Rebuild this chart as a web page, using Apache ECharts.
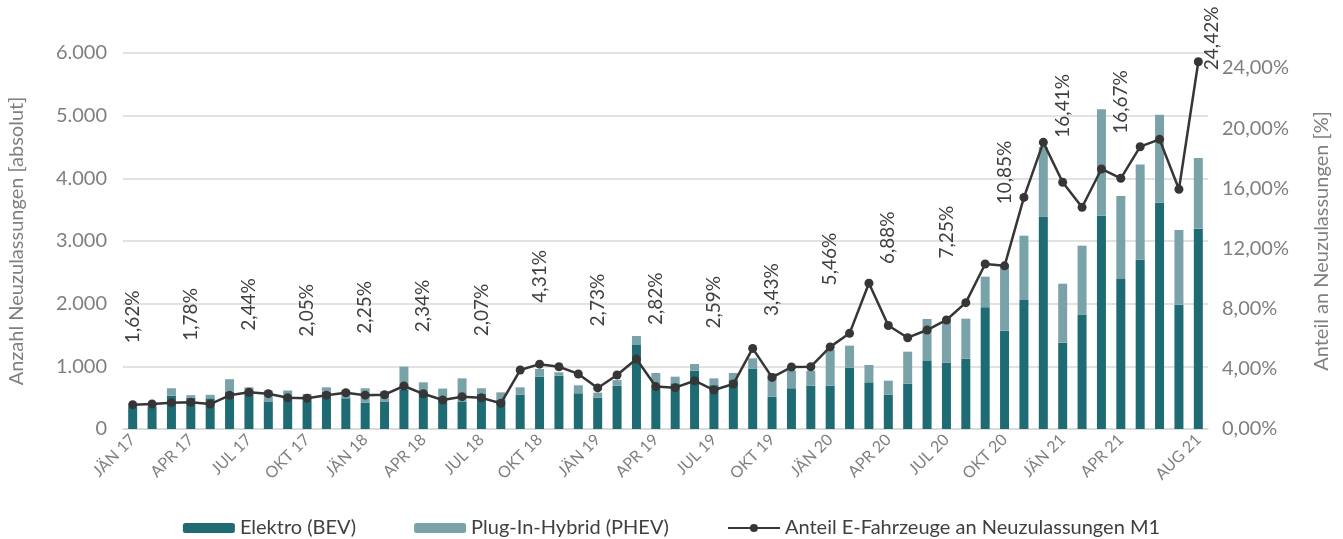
<!DOCTYPE html>
<html>
<head>
<meta charset="utf-8">
<script src="https://cdn.jsdelivr.net/npm/echarts@6/dist/echarts.min.js"></script>
<style>
  html, body { margin: 0; padding: 0; background: #fff; }
  #main { width: 1343px; height: 539px; }
</style>
</head>
<body>
<div id="main"></div>
<script>
// monthly categories Jän 2017 - Aug 2021
const categories = [
  'JÄN 17', 'FEB 17', 'MÄR 17', 'APR 17', 'MAI 17', 'JUN 17', 'JUL 17', 'AUG 17', 'SEP 17', 'OKT 17', 'NOV 17', 'DEZ 17',
  'JÄN 18', 'FEB 18', 'MÄR 18', 'APR 18', 'MAI 18', 'JUN 18', 'JUL 18', 'AUG 18', 'SEP 18', 'OKT 18', 'NOV 18', 'DEZ 18',
  'JÄN 19', 'FEB 19', 'MÄR 19', 'APR 19', 'MAI 19', 'JUN 19', 'JUL 19', 'AUG 19', 'SEP 19', 'OKT 19', 'NOV 19', 'DEZ 19',
  'JÄN 20', 'FEB 20', 'MÄR 20', 'APR 20', 'MAI 20', 'JUN 20', 'JUL 20', 'AUG 20', 'SEP 20', 'OKT 20', 'NOV 20', 'DEZ 20',
  'JÄN 21', 'FEB 21', 'MÄR 21', 'APR 21', 'MAI 21', 'JUN 21', 'JUL 21', 'AUG 21'
]

const bev = [
  350, 350, 530, 500, 490, 590, 610, 440, 530, 460, 600, 490,
  420, 440, 630, 600, 470, 440, 560, 470, 545, 835, 850, 570,
  500, 690, 1340, 650, 730, 930, 700, 780, 960, 516, 650, 692,
  692, 979, 745, 548, 724, 1085, 1058, 1122, 1942, 1569, 2059, 3384,
  1378, 1820, 3404, 2394, 2702, 3612, 1984, 3197
]

const phev = [
  20, 25, 120, 40, 55, 205, 55, 172, 85, 100, 65, 130,
  230, 160, 365, 145, 175, 368, 90, 115, 120, 123, 55, 127,
  80, 90, 144, 244, 105, 107, 108, 114, 168, 373, 280, 238,
  569, 351, 276, 223, 510, 671, 662, 639, 489, 1031, 1026, 1116,
  941, 1106, 1698, 1325, 1517, 1404, 1192, 1128
]

// Anteil E-Fahrzeuge in %
const share = [
  1.62, 1.66, 1.75, 1.78, 1.66, 2.24, 2.44, 2.35, 2.08, 2.05, 2.24, 2.41,
  2.25, 2.28, 2.86, 2.34, 1.93, 2.15, 2.07, 1.71, 3.92, 4.31, 4.14, 3.66,
  2.73, 3.59, 4.65, 2.82, 2.75, 3.21, 2.59, 2.99, 5.36, 3.43, 4.12, 4.14,
  5.46, 6.36, 9.69, 6.88, 6.07, 6.58, 7.25, 8.40, 10.97, 10.85, 15.40, 19.06,
  16.41, 14.74, 17.29, 16.67, 18.77, 19.26, 15.94, 24.42
]

// which points / months get a label
const labelIdx = [0, 3, 6, 9, 12, 15, 18, 21, 24, 27, 30, 33, 36, 39, 42, 45, 48, 51, 55]

const gray = '#7f7f7f'
const dark = '#404040'
const font = 'Lato, "Noto Sans", sans-serif'

function fmtPct (v) {
  return v.toFixed(2).replace('.', ',') + '%'
}

const shareData = share.map(function (v, i) {
  if (labelIdx.indexOf(i) < 0) return v
  let label = {
    show: true,
    position: 'top',
    distance: i >= 48 ? 40 : 57,
    rotate: 90,
    align: 'left',
    verticalAlign: 'middle'
  }
  if (i === categories.length - 1) {
    label = { show: true, position: [18, 13], rotate: 90, align: 'left', verticalAlign: 'middle' }
  }
  return { value: v, label: label }
})

const chart = echarts.init(document.getElementById('main'))
chart.setOption({
  animation: false,
  textStyle: { fontFamily: font },
  grid: { left: 123, right: 135, top: 53, bottom: 110, containLabel: false, outerBoundsMode: 'none' },
  legend: {
    top: 513,
    left: 'center',
    itemWidth: 52,
    itemHeight: 10,
    itemGap: 58,
    textStyle: { color: dark, fontSize: 20, fontFamily: font },
    data: ['Elektro (BEV)', 'Plug-In-Hybrid (PHEV)', 'Anteil E-Fahrzeuge an Neuzulassungen M1']
  },
  xAxis: {
    type: 'category',
    data: categories,
    axisLine: { lineStyle: { color: '#d9d9d9', width: 1.5 } },
    axisTick: { show: false },
    axisLabel: {
      color: gray,
      fontSize: 16,
      rotate: 45,
      margin: 8,
      interval: function (i) { return labelIdx.indexOf(i) >= 0 }
    }
  },
  yAxis: [
    {
      type: 'value',
      min: 0,
      max: 6000,
      interval: 1000,
      name: 'Anzahl Neuzulassungen [absolut]',
      nameLocation: 'middle',
      nameRotate: 90,
      nameGap: 96,
      nameTextStyle: { color: gray, fontSize: 20 },
      axisLabel: {
        color: gray,
        fontSize: 20,
        margin: 16,
        formatter: function (v) { return String(v).replace(/\B(?=(\d{3})+(?!\d))/g, '.') }
      },
      splitLine: { lineStyle: { color: '#d9d9d9', width: 1.5 } }
    },
    {
      type: 'value',
      min: 0,
      max: 25,
      interval: 4,
      name: 'Anteil an Neuzulassungen [%]',
      nameLocation: 'middle',
      nameRotate: 90,
      nameGap: 104,
      nameTextStyle: { color: gray, fontSize: 20 },
      axisLabel: {
        color: gray,
        fontSize: 20,
        margin: 14,
        formatter: function (v) { return v > 24 ? '' : fmtPct(v) }
      },
      splitLine: { show: false }
    }
  ],
  series: [
    {
      name: 'Elektro (BEV)',
      type: 'bar',
      stack: 'total',
      barWidth: 9,
      itemStyle: { color: '#1e6b74' },
      data: bev
    },
    {
      name: 'Plug-In-Hybrid (PHEV)',
      type: 'bar',
      stack: 'total',
      barWidth: 9,
      itemStyle: { color: '#7aa3a9' },
      data: phev
    },
    {
      name: 'Anteil E-Fahrzeuge an Neuzulassungen M1',
      type: 'line',
      yAxisIndex: 1,
      symbol: 'circle',
      symbolSize: 9,
      z: 5,
      lineStyle: { color: '#363636', width: 2.5 },
      itemStyle: { color: '#363636' },
      label: {
        show: false,
        color: dark,
        fontSize: 19,
        formatter: function (p) { return fmtPct(p.value) }
      },
      data: shareData
    }
  ]
})
</script>
</body>
</html>
